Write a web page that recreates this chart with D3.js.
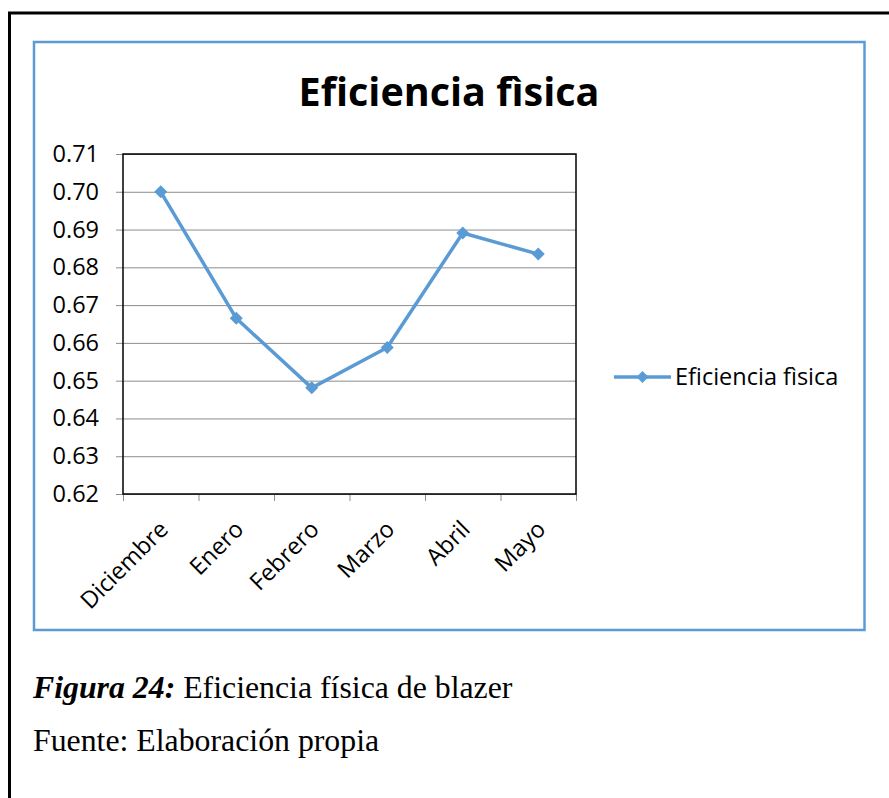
<!DOCTYPE html>
<html>
<head>
<meta charset="utf-8">
<script src="https://cdn.jsdelivr.net/npm/d3@7"></script>
<style>
  html, body { margin: 0; padding: 0; background: #fff; }
  svg { display: block; }
</style>
</head>
<body>
<script>
// ---- data ----
const categories = ["Diciembre", "Enero", "Febrero", "Marzo", "Abril", "Mayo"];
const values = [0.700, 0.6665, 0.6481, 0.6588, 0.6891, 0.6835];
const yTicks = [0.62, 0.63, 0.64, 0.65, 0.66, 0.67, 0.68, 0.69, 0.70, 0.71];
const seriesName = "Eficiencia fìsica";
const chartTitle = "Eficiencia fìsica";
const captionBold = "Figura 24:";
const captionRest = " Eficiencia física de blazer";
const sourceText = "Fuente: Elaboración propia";

// ---- layout ----
const W = 889, H = 798;
const blue = "#5B9BD5";
const plot = { left: 123, right: 576, top: 154, bottom: 494 };
const chartFont = "'Open Sans', sans-serif";
const labelSize = 23.5;

const svg = d3.select("body").append("svg").attr("width", W).attr("height", H);

// outer black page frame (top and left)
svg.append("path")
  .attr("d", `M9.5,${H + 5} L9.5,13 L${W + 5},13`)
  .attr("fill", "none").attr("stroke", "#000").attr("stroke-width", 3);

// chart frame
svg.append("rect")
  .attr("x", 34).attr("y", 42).attr("width", 830.5).attr("height", 588)
  .attr("fill", "#fff").attr("stroke", blue).attr("stroke-width", 2.5);

// title
svg.append("text")
  .attr("x", 449).attr("y", 106)
  .attr("text-anchor", "middle")
  .attr("font-family", chartFont).attr("font-weight", "bold")
  .attr("font-size", 39.5).attr("fill", "#000")
  .text(chartTitle);

// scales
const x = d3.scaleBand().domain(categories).range([plot.left, plot.right]);
const y = d3.scaleLinear().domain([0.62, 0.71]).range([plot.bottom, plot.top]);
const xEdges = d3.scaleLinear().domain([0, categories.length]).range([plot.left, plot.right]);

// gridlines
svg.append("g")
  .attr("transform", `translate(${plot.left},0)`)
  .call(d3.axisLeft(y).tickValues(yTicks).tickSize(-(plot.right - plot.left)).tickFormat(""))
  .call(g => g.select(".domain").remove())
  .call(g => g.selectAll("line").attr("stroke", "#8c8c8c").attr("stroke-width", 1));

// y axis
const yAxis = svg.append("g")
  .attr("transform", `translate(${plot.left},0)`)
  .call(d3.axisLeft(y).tickValues(yTicks).tickSize(7).tickPadding(17).tickFormat(d3.format(".2f")));
yAxis.select(".domain").remove();
yAxis.selectAll("line").attr("stroke", "#8c8c8c");
yAxis.selectAll("text")
  .attr("font-family", chartFont).attr("font-size", labelSize).attr("fill", "#000");

// x axis ticks at category boundaries
const xAxis = svg.append("g")
  .attr("transform", `translate(0,${plot.bottom})`)
  .call(d3.axisBottom(xEdges).ticks(categories.length).tickSize(7).tickFormat(""));
xAxis.select(".domain").remove();
xAxis.selectAll("line").attr("stroke", "#8c8c8c");

// plot border
svg.append("rect")
  .attr("x", plot.left).attr("y", plot.top)
  .attr("width", plot.right - plot.left).attr("height", plot.bottom - plot.top)
  .attr("fill", "none").attr("stroke", "#000").attr("stroke-width", 1.5);

// x labels
svg.append("g").selectAll("text")
  .data(categories).join("text")
  .attr("transform", d => `translate(${x(d) + x.bandwidth() / 2 + 3},${plot.bottom + 31}) rotate(-45)`)
  .attr("text-anchor", "end")
  .attr("dy", "0.35em")
  .attr("font-family", chartFont).attr("font-size", labelSize).attr("fill", "#000")
  .text(d => d);

// line
const data = categories.map((c, i) => ({ c, v: values[i] }));
svg.append("path")
  .datum(data)
  .attr("fill", "none").attr("stroke", blue).attr("stroke-width", 3.5)
  .attr("stroke-linejoin", "round")
  .attr("d", d3.line().x(d => x(d.c) + x.bandwidth() / 2).y(d => y(d.v)));

const diamond = r => `M0,${-r}L${r},0L0,${r}L${-r},0Z`;
svg.append("g").selectAll("path")
  .data(data).join("path")
  .attr("transform", d => `translate(${x(d.c) + x.bandwidth() / 2},${y(d.v)})`)
  .attr("d", diamond(6.5))
  .attr("fill", blue);

// legend
const lg = svg.append("g").attr("transform", "translate(614,377)");
lg.append("line").attr("x1", 0).attr("x2", 57).attr("y1", 0).attr("y2", 0)
  .attr("stroke", blue).attr("stroke-width", 3.5);
lg.append("path").attr("transform", "translate(28.5,0)").attr("d", diamond(6)).attr("fill", blue);
lg.append("text").attr("x", 61).attr("y", 0).attr("dy", "0.35em")
  .attr("font-family", chartFont).attr("font-size", labelSize).attr("fill", "#000")
  .text(seriesName);

// caption
const cap = svg.append("text")
  .attr("x", 33).attr("y", 698)
  .attr("font-family", "'Liberation Serif', 'Times New Roman', serif")
  .attr("font-size", 31.8).attr("fill", "#000");
cap.append("tspan").attr("font-weight", "bold").attr("font-style", "italic").text(captionBold);
cap.append("tspan").text(captionRest);

svg.append("text")
  .attr("x", 33).attr("y", 751)
  .attr("font-family", "'Liberation Serif', 'Times New Roman', serif")
  .attr("font-size", 31.8).attr("fill", "#000")
  .text(sourceText);
</script>
</body>
</html>
